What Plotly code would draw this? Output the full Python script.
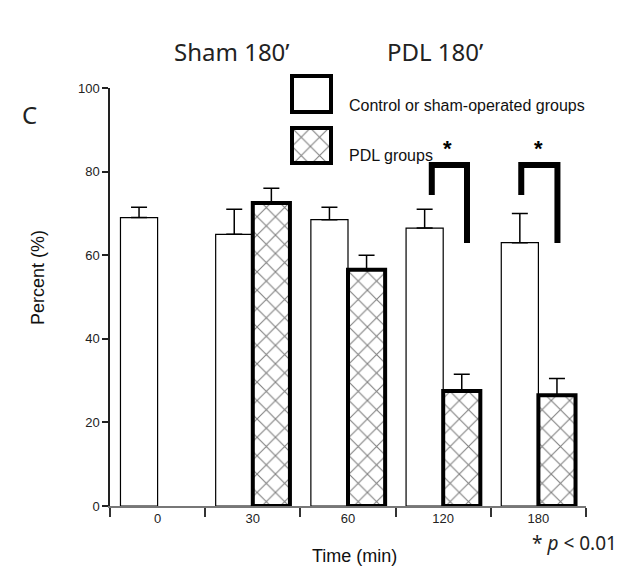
import plotly.graph_objects as go

# ---- data ----
time_labels = ["0", "30", "60", "120", "180"]
control_vals = [69, 65, 68.5, 66.5, 63]
control_err = [2.5, 6, 3, 4.5, 7]
pdl_vals = [None, 72.5, 56.5, 27.5, 26.5]
pdl_err = [0, 3.5, 3.5, 4, 4]
y_ticks = [0, 20, 40, 60, 80, 100]

# significance brackets (category index, offsets, y levels)
sig_idx = [3, 4]
sig_left_off = [-0.12, -0.18]
sig_right_off = [0.25, 0.20]
sig_top = [81.6, 81.6]
sig_left_bottom = [74.4, 74.4]
sig_right_bottom = [62.9, 62.9]
star_off = [0.05, 0.0]
star_y = [85.5, 85.5]

W, H = 622, 580
L, R, T, B = 110, 36, 88, 74
pw, ph = W - L - R, H - T - B


def px(x):
    return (x - L) / pw


def py(y):
    return (H - B - y) / ph


hatch = dict(shape="x", fgcolor="black", bgcolor="white", size=13, solidity=0.16)

fig = go.Figure()
fig.add_trace(go.Bar(
    x=time_labels, y=control_vals, name="Control or sham-operated groups",
    marker=dict(color="white", line=dict(color="black", width=1.2)),
    error_y=dict(type="data", symmetric=False, array=control_err,
                 arrayminus=[0] * 5, color="black", thickness=1.5, width=8),
))
fig.add_trace(go.Bar(
    x=time_labels, y=pdl_vals, name="PDL groups",
    marker=dict(color="white", line=dict(color="black", width=4), pattern=hatch),
    error_y=dict(type="data", symmetric=False, array=pdl_err,
                 arrayminus=[0] * 5, color="black", thickness=1.5, width=8),
))

# legend swatch (hatched) on a tiny helper subplot
bx0, bx1 = px(292), px(331)
by0, by1 = py(163), py(128)
fig.add_trace(go.Bar(
    x=[0], y=[1], width=[1], xaxis="x2", yaxis="y2", showlegend=False,
    hoverinfo="skip",
    marker=dict(color="white", line=dict(width=0), pattern=hatch),
))

shapes = []
for i in range(len(sig_idx)):
    xl = sig_idx[i] + sig_left_off[i]
    xr = sig_idx[i] + sig_right_off[i]
    shapes.append(dict(
        type="path", xref="x", yref="y",
        path=f"M {xl},{sig_left_bottom[i]} L {xl},{sig_top[i]} L {xr},{sig_top[i]} L {xr},{sig_right_bottom[i]}",
        line=dict(color="black", width=6), layer="above"))

# legend boxes
shapes.append(dict(type="rect", xref="paper", yref="paper",
                   x0=px(292), x1=px(331), y0=py(112), y1=py(76),
                   line=dict(color="black", width=4), fillcolor="white"))
shapes.append(dict(type="rect", xref="paper", yref="paper",
                   x0=bx0, x1=bx1, y0=by0, y1=by1,
                   line=dict(color="black", width=4)))

ann = []
tfont = dict(family="Noto Sans", size=24, color="#222")
ann.append(dict(text="Sham 180’", x=px(172), y=py(33), xref="paper", yref="paper",
                showarrow=False, font=tfont))
ann.append(dict(text="PDL 180’", x=px(485), y=py(33), xref="paper", yref="paper",
                showarrow=False, font=tfont))
ann.append(dict(text="C", x=px(20), y=py(96), xref="paper", yref="paper",
                showarrow=False, font=dict(family="Noto Sans", size=24, color="#222")))
ann.append(dict(text="Percent (%)", x=px(26), y=py(278), xref="paper", yref="paper",
                textangle=-90, showarrow=False,
                font=dict(family="Liberation Sans", size=18, color="#111")))
ann.append(dict(text="Time (min)", x=px(354), y=py(568), xref="paper", yref="paper",
                showarrow=False, font=dict(family="Liberation Sans", size=18, color="#111")))
ann.append(dict(text="* <i>p</i> < 0.01", x=px(619), y=py(558), xref="paper", yref="paper",
                xanchor="right", showarrow=False,
                font=dict(family="Noto Sans", size=19, color="#222")))
ann.append(dict(text="Control or sham-operated groups", x=px(347), y=py(95),
                xref="paper", yref="paper", xanchor="left", showarrow=False,
                font=dict(family="Liberation Sans", size=16, color="#111")))
ann.append(dict(text="PDL groups", x=px(347), y=py(145),
                xref="paper", yref="paper", xanchor="left", showarrow=False,
                font=dict(family="Liberation Sans", size=16, color="#111")))
for i in range(len(sig_idx)):
    ann.append(dict(text="<b>*</b>", x=sig_idx[i] + star_off[i], y=star_y[i],
                    xref="x", yref="y", showarrow=False,
                    font=dict(family="Liberation Sans", size=22, color="black")))

fig.update_layout(
    width=W, height=H, margin=dict(l=L, r=R, t=T, b=B),
    paper_bgcolor="white", plot_bgcolor="white",
    barmode="group", bargap=0.22, bargroupgap=0,
    showlegend=False,
    shapes=shapes, annotations=ann,
    xaxis=dict(type="category", showline=True, linecolor="#777", linewidth=1.5,
               ticks="outside", tickson="boundaries", ticklen=9, tickcolor="#333",
               tickwidth=1.5, showgrid=False, zeroline=False,
               tickfont=dict(family="Liberation Sans", size=13, color="#222")),
    yaxis=dict(range=[0, 100], tickvals=y_ticks, showline=True, linecolor="#222",
               linewidth=1.5, ticks="outside", ticklen=6, tickwidth=1.5,
               tickcolor="#222", showgrid=False, zeroline=False,
               tickfont=dict(family="Liberation Sans", size=13, color="#222")),
    xaxis2=dict(domain=[bx0, bx1], range=[-0.5, 0.5], visible=False, anchor="y2"),
    yaxis2=dict(domain=[by0, by1], range=[0, 1], visible=False, anchor="x2"),
)

fig.write_html("out.html", config={"displayModeBar": False},
               post_script="document.body.style.margin='0px';")
